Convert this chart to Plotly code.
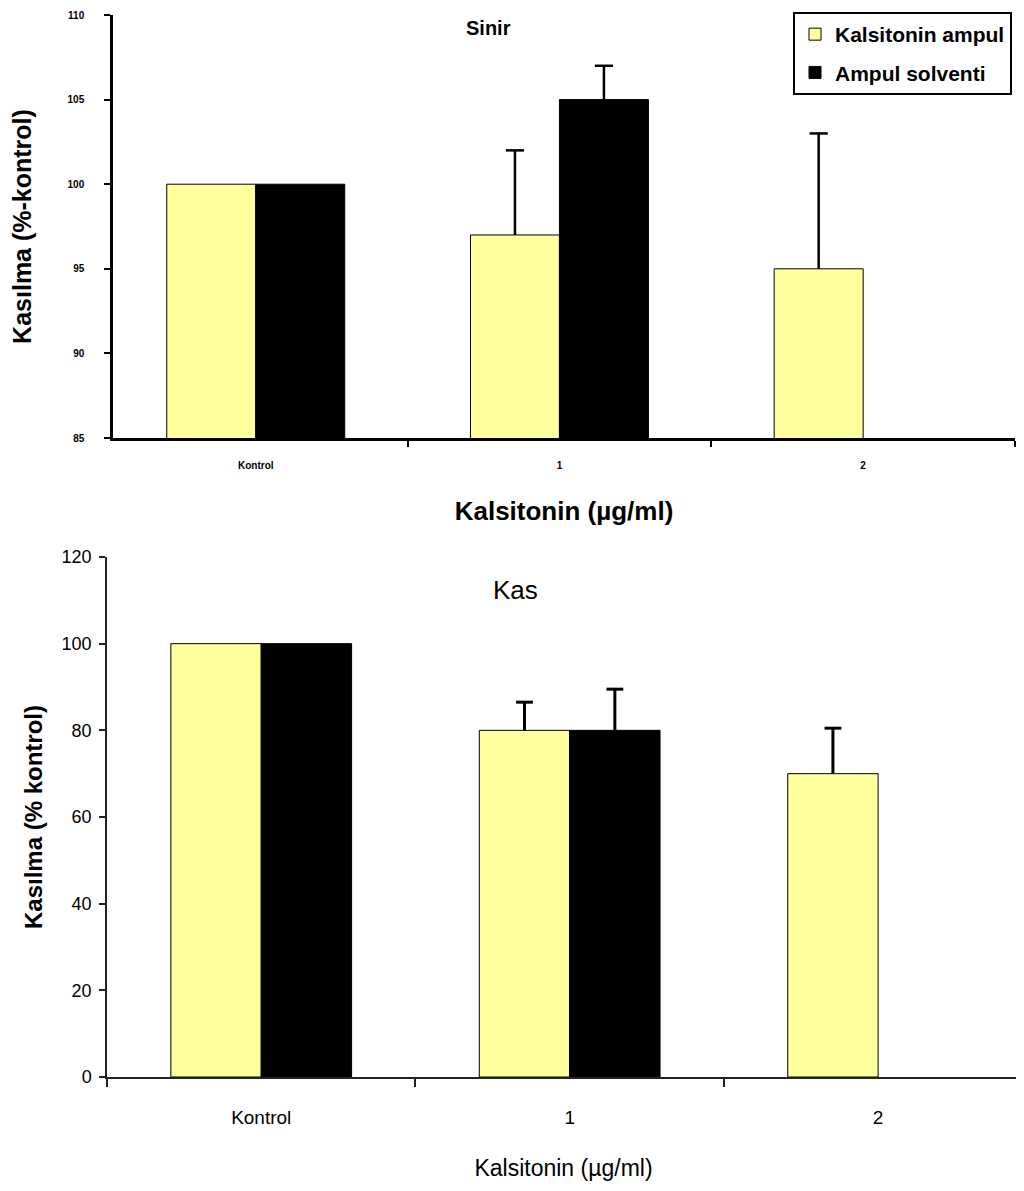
import plotly.graph_objects as go

categories = ["Kontrol", "1", "2"]

# Top panel: Sinir
sinir_ampul = [100, 97, 95]
sinir_ampul_err = [None, 5, 8]
sinir_solvent = [100, 105, None]
sinir_solvent_err = [None, 2, None]

# Bottom panel: Kas
kas_ampul = [100, 80, 70]
kas_ampul_err = [None, 6.5, 10.5]
kas_solvent = [100, 80, None]
kas_solvent_err = [None, 9.5, None]

top_ticks = [85, 90, 95, 100, 105, 110]
bottom_ticks = [0, 20, 40, 60, 80, 100, 120]

YELLOW = "#FFFF9E"
BLACK = "#000000"
BOLD = "Liberation Sans"
NARROW = "Liberation Sans Narrow, Liberation Sans, Arial"

OFF = 8  # page body margin
W = 1024 - 2 * OFF + 8
H = 1191 - OFF
BAR_W = 0.293

fig = go.Figure()
pos = list(range(len(categories)))


def add_bars(y, err, color, name, side, xa, ya, showlegend, thick, capsize, group):
    xs = [p + side * BAR_W / 2 for p in pos]
    fig.add_trace(go.Bar(
        x=xs, y=y, width=BAR_W, name=name, xaxis=xa, yaxis=ya,
        legendgroup=group,
        marker=dict(color=color, line=dict(color="black", width=1)),
        error_y=dict(type="data", symmetric=False,
                     array=[e if e is not None else 0 for e in err],
                     arrayminus=[0] * len(err),
                     color="black", thickness=thick, width=0),
        showlegend=showlegend,
    ))
    cx = [x for x, e in zip(xs, err) if e is not None]
    cy = [v + e for v, e in zip(y, err) if e is not None]
    fig.add_trace(go.Scatter(
        x=cx, y=cy, mode="markers", xaxis=xa, yaxis=ya, showlegend=False,
        hoverinfo="skip",
        marker=dict(symbol="line-ew", size=capsize, color="black",
                    line=dict(color="black", width=thick)),
    ))


add_bars(sinir_ampul, sinir_ampul_err, YELLOW, "Kalsitonin ampul", -1, "x", "y", True, 2.5, 13, "a")
add_bars(sinir_solvent, sinir_solvent_err, BLACK, "Ampul solventi", 1, "x", "y", True, 2.5, 13, "b")
add_bars(kas_ampul, kas_ampul_err, YELLOW, "Kalsitonin ampul", -1, "x2", "y2", False, 3, 12, "a")
add_bars(kas_solvent, kas_solvent_err, BLACK, "Ampul solventi", 1, "x2", "y2", False, 3, 12, "b")


def py(px):
    return 1 - (px - OFF) / H


def pxx(px):
    return (px - OFF) / W


fig.update_layout(
    width=W, height=H,
    margin=dict(l=0, r=0, t=0, b=0, autoexpand=False),
    paper_bgcolor="white", plot_bgcolor="white",
    barmode="overlay",
    font=dict(family=BOLD, color="black"),
    xaxis=dict(domain=[pxx(113), pxx(1015)], anchor="y", range=[-0.47, 2.5],
               automargin=False,
               tickvals=pos, ticktext=categories, ticks="",
               showline=True, linecolor="black", linewidth=2.5,
               minor=dict(tick0=0.5, dtick=1, ticks="outside", ticklen=6,
                          tickwidth=2, tickcolor="black"),
               ticklabelstandoff=16,
               tickfont=dict(family=BOLD, size=10, weight="bold"),
               title=dict(text="Kalsitonin (µg/ml)", font=dict(family=BOLD, size=26, weight="bold"), standoff=33),
               showgrid=False, zeroline=False),
    yaxis=dict(domain=[py(438), py(15)], anchor="x", range=[85, 110],
               automargin=False,
               tickvals=top_ticks, ticktext=[str(t) for t in top_ticks],
               showline=True, linecolor="black", linewidth=2.5,
               ticks="outside", ticklen=6, tickwidth=2, tickcolor="black",
               ticklabelstandoff=18,
               tickfont=dict(family=BOLD, size=10, weight="bold"),
               title=dict(text="Kasılma (%-kontrol)", font=dict(family=BOLD, size=25, weight="bold"), standoff=33),
               showgrid=False, zeroline=False),
    xaxis2=dict(domain=[pxx(107), pxx(1020)], anchor="y2", range=[-0.5, 2.46],
                automargin=False,
                tickvals=pos, ticktext=categories, ticks="",
                showline=True, linecolor="#222222", linewidth=1.5,
                minor=dict(tick0=0.5, dtick=1, ticks="outside", ticklen=8,
                           tickwidth=1.5, tickcolor="#222222"),
                ticklabelstandoff=22,
                tickfont=dict(family=NARROW, size=19),
                title=dict(text="Kalsitonin (µg/ml)", font=dict(family=NARROW, size=23), standoff=33),
                showgrid=False, zeroline=False),
    yaxis2=dict(domain=[py(1077), py(557)], anchor="x2", range=[0, 120],
                automargin=False,
                tickvals=bottom_ticks, ticktext=[str(t) for t in bottom_ticks],
                showline=True, linecolor="#222222", linewidth=1.5,
                ticks="outside", ticklen=6, tickwidth=1.5, tickcolor="#222222",
                ticklabelstandoff=4,
                tickfont=dict(family=NARROW, size=18),
                title=dict(text="Kasılma (% kontrol)", font=dict(family=BOLD, size=24, weight="bold"), standoff=12),
                showgrid=False, zeroline=False),
    legend=dict(x=pxx(1012), xanchor="right", y=py(12), yanchor="top",
                bordercolor="black", borderwidth=2, bgcolor="white",
                font=dict(family=BOLD, size=21, weight="bold"),
                tracegroupgap=8, itemwidth=30),
    annotations=[
        dict(text="Sinir", x=pxx(488), y=py(28), xref="paper", yref="paper",
             xanchor="center", yanchor="middle",
             showarrow=False, font=dict(family=BOLD, size=20, weight="bold")),
        dict(text="Kas", x=pxx(515), y=py(590), xref="paper", yref="paper",
             xanchor="center", yanchor="middle",
             showarrow=False, font=dict(family=NARROW, size=26)),
    ],
)

fig.write_html("out.html")
